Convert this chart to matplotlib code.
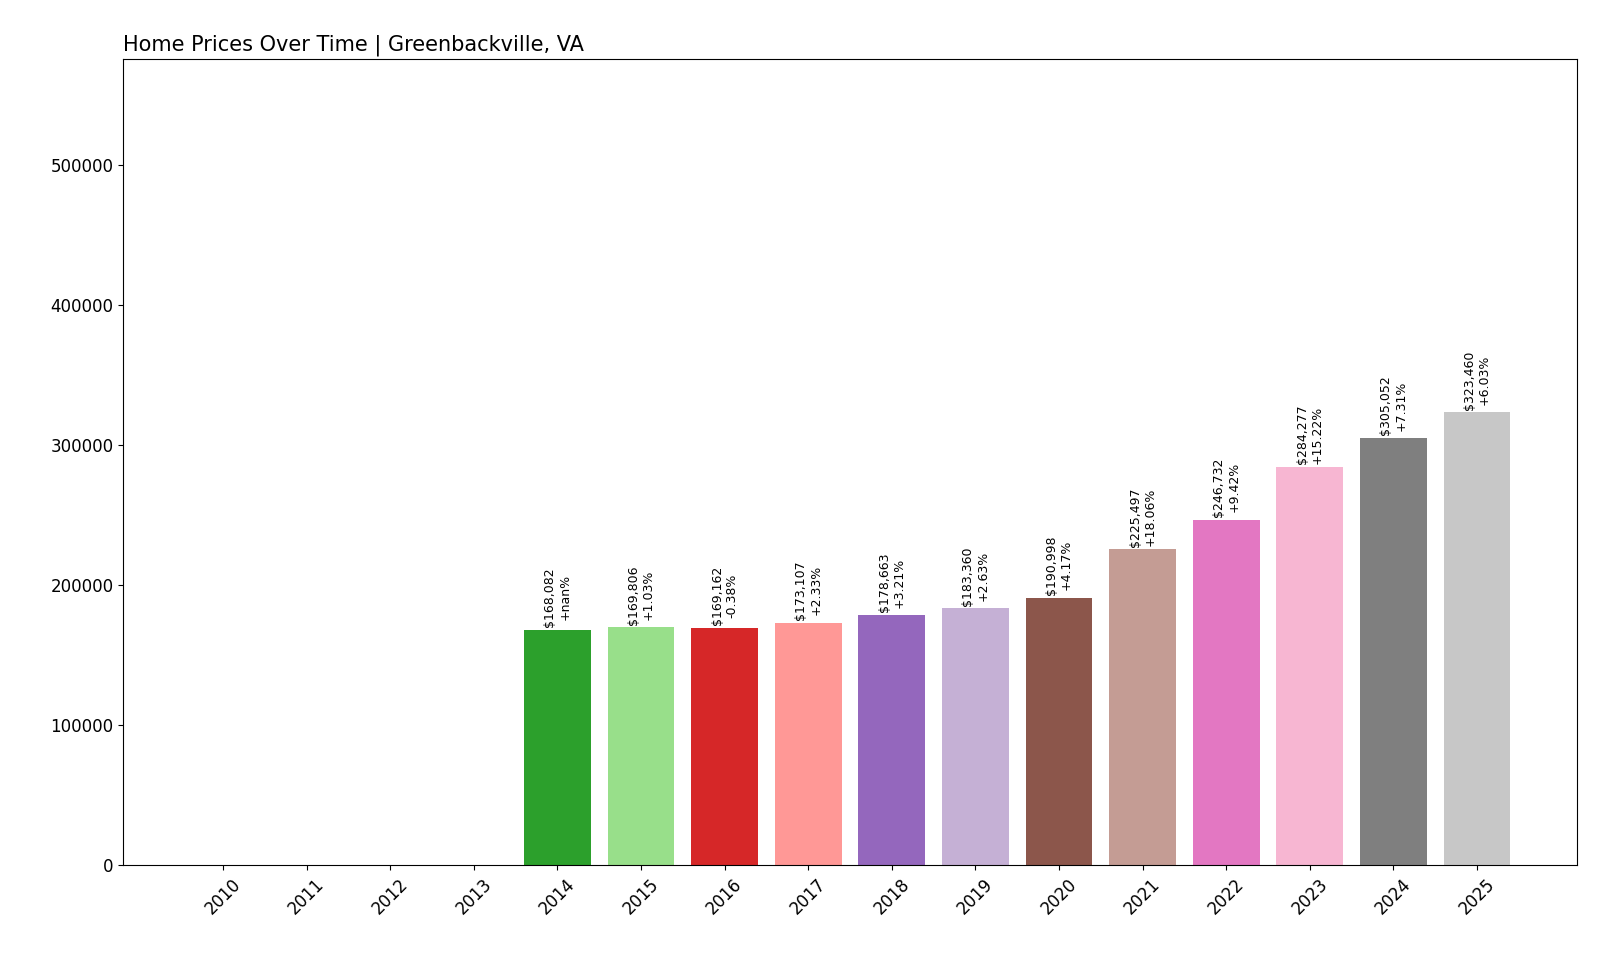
import matplotlib
matplotlib.use("Agg")
import matplotlib.pyplot as plt
import numpy as np

years = [str(y) for y in range(2010, 2026)]
prices = [0, 0, 0, 0, 168082, 169806, 169162, 173107, 178663, 183360,
          190998, 225497, 246732, 284277, 305052, 323460]
pct_labels = ["", "", "", "", "+nan%", "+1.03%", "-0.38%", "+2.33%", "+3.21%", "+2.63%",
              "+4.17%", "+18.06%", "+9.42%", "+15.22%", "+7.31%", "+6.03%"]

W, H = 1568, 940
fig = plt.figure(figsize=(16, 9.6), dpi=100)
ax = fig.add_axes([121/W, 1-847/H, (1545-121)/W, (847-58)/H])
colors = plt.get_cmap("tab20").colors
x = np.arange(len(years))
ax.bar(x, prices, color=[colors[i % 20] for i in range(len(years))])
for i, (p, l) in enumerate(zip(prices, pct_labels)):
    if p > 0:
        ax.text(i, p + 2000, f"${p:,}\n{l}", rotation=90, ha="center", va="bottom", fontsize=9)
ax.set_xticks(x)
ax.set_xticklabels(years, rotation=45, fontsize=12)
ax.tick_params(axis="y", labelsize=12)
ax.set_ylim(0, max(prices) * 1.78)
ax.set_title("Home Prices Over Time | Greenbackville, VA", loc="left", fontsize=15)
fig.savefig("out.png", dpi=100)
